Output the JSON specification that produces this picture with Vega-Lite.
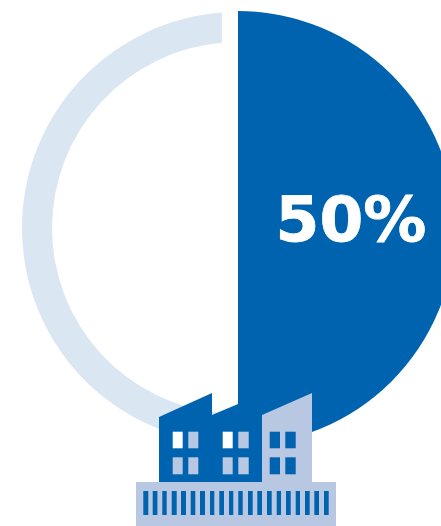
{
"$schema":"https://vega.github.io/schema/vega-lite/v6.json",
"width":441,"height":526,"padding":0,"autosize":{"type":"none"},
"background":"white",
"view":{"stroke":null},
"datasets":{
"share":[{"part":"share","start":0,"end":50,"tone":"dark"},{"part":"rest","start":50,"end":100,"tone":"pale"}],
"hall":[{"px":159,"py":417},{"px":212,"py":393},{"px":212,"py":415},{"px":238,"py":404},{"px":262,"py":394}],
"annex":[{"px":262,"py":415},{"px":312,"py":393}],
"boxes":[
{"l":136,"r":336,"t":482,"b":526,"tone":"light"},
{"l":172.7,"r":182.7,"t":431.7,"b":448.3,"tone":"white"},
{"l":188.3,"r":198.3,"t":431.7,"b":448.3,"tone":"light"},
{"l":172.7,"r":182.7,"t":457.3,"b":474.3,"tone":"light"},
{"l":188.3,"r":198.3,"t":457.3,"b":474.3,"tone":"light"},
{"l":222.7,"r":232.7,"t":431.7,"b":448.3,"tone":"white"},
{"l":238.3,"r":248.7,"t":431.7,"b":448.3,"tone":"light"},
{"l":222.7,"r":232.7,"t":457.3,"b":474.3,"tone":"light"},
{"l":238.3,"r":248.7,"t":457.3,"b":474.3,"tone":"light"},
{"l":269.7,"r":280,"t":431.7,"b":448.3,"tone":"dark"},
{"l":285.3,"r":295.7,"t":431.7,"b":448.3,"tone":"dark"},
{"l":269.7,"r":280,"t":457.3,"b":474.3,"tone":"dark"},
{"l":285.3,"r":295.7,"t":457.3,"b":474.3,"tone":"dark"},
{"l":143.3,"r":148.3,"t":491,"b":515,"tone":"dark"},
{"l":152.7,"r":157.4,"t":491,"b":515,"tone":"dark"},
{"l":162.3,"r":166.7,"t":491,"b":515,"tone":"dark"},
{"l":171.7,"r":176.7,"t":491,"b":515,"tone":"dark"},
{"l":181,"r":186,"t":491,"b":515,"tone":"dark"},
{"l":190.7,"r":195.3,"t":491,"b":515,"tone":"dark"},
{"l":200,"r":205,"t":491,"b":515,"tone":"dark"},
{"l":210,"r":214.3,"t":491,"b":515,"tone":"dark"},
{"l":219.3,"r":224,"t":491,"b":515,"tone":"dark"},
{"l":229,"r":233.3,"t":491,"b":515,"tone":"dark"},
{"l":238.3,"r":242.7,"t":491,"b":515,"tone":"dark"},
{"l":248,"r":252.7,"t":491,"b":515,"tone":"dark"},
{"l":257.3,"r":262,"t":491,"b":515,"tone":"dark"},
{"l":267,"r":271.7,"t":491,"b":515,"tone":"dark"},
{"l":276.7,"r":281,"t":491,"b":515,"tone":"dark"},
{"l":286,"r":290.7,"t":491,"b":515,"tone":"dark"},
{"l":295.7,"r":300,"t":491,"b":515,"tone":"dark"},
{"l":305,"r":309.7,"t":491,"b":515,"tone":"dark"},
{"l":314.3,"r":319,"t":491,"b":515,"tone":"dark"},
{"l":324,"r":328.7,"t":491,"b":515,"tone":"dark"}
],
"label":[{"text":"50%"}]
},
"data":{"name":"share"},
"layer":[
{"transform":[{"filter":"datum.part==='rest'"}],
 "mark":{"type":"arc","innerRadius":186,"outerRadius":216,"padAngle":0.113},
 "encoding":{
 "x":{"datum":238,"type":"quantitative","scale":{"domain":[0,441],"range":[0,441],"nice":false,"zero":false},"axis":null},
 "y":{"datum":228,"type":"quantitative","scale":{"domain":[0,526],"range":[0,526],"nice":false,"zero":false},"axis":null},
 "theta":{"field":"start","type":"quantitative","stack":null,"scale":{"domain":[0,100],"range":[0,6.283185]}},"theta2":{"field":"end"},
 "color":{"field":"tone","type":"nominal","legend":null,"scale":{"domain":["dark","pale","light","white"],"range":["#0063AF","#DAE6F1","#B9C8E2","#FFFFFF"]}}}},
{"transform":[{"filter":"datum.part==='share'"}],
 "mark":{"type":"arc","innerRadius":0,"outerRadius":217},
 "encoding":{
 "x":{"datum":238,"type":"quantitative","scale":{"domain":[0,441],"range":[0,441],"nice":false,"zero":false},"axis":null},
 "y":{"datum":228,"type":"quantitative","scale":{"domain":[0,526],"range":[0,526],"nice":false,"zero":false},"axis":null},
 "theta":{"field":"start","type":"quantitative","stack":null,"scale":{"domain":[0,100],"range":[0,6.283185]}},"theta2":{"field":"end"},
 "color":{"field":"tone","type":"nominal","legend":null}}},
{"data":{"name":"hall"},"mark":{"type":"area","color":"#0063AF","interpolate":"linear"},
 "encoding":{
 "x":{"field":"px","type":"quantitative","scale":{"domain":[0,441],"range":[0,441],"nice":false,"zero":false},"axis":null},
 "y":{"field":"py","type":"quantitative","scale":{"domain":[0,526],"range":[0,526],"nice":false,"zero":false},"axis":null,"stack":null},
 "y2":{"datum":482}}},
{"data":{"name":"annex"},"mark":{"type":"area","color":"#B9C8E2","interpolate":"linear"},
 "encoding":{
 "x":{"field":"px","type":"quantitative","scale":{"domain":[0,441],"range":[0,441],"nice":false,"zero":false},"axis":null},
 "y":{"field":"py","type":"quantitative","scale":{"domain":[0,526],"range":[0,526],"nice":false,"zero":false},"axis":null,"stack":null},
 "y2":{"datum":482}}},
{"data":{"name":"boxes"},"mark":{"type":"rect"},
 "encoding":{
 "x":{"field":"l","type":"quantitative","scale":{"domain":[0,441],"range":[0,441],"nice":false,"zero":false},"axis":null},"x2":{"field":"r"},
 "y":{"field":"t","type":"quantitative","scale":{"domain":[0,526],"range":[0,526],"nice":false,"zero":false},"axis":null},"y2":{"field":"b"},
 "color":{"field":"tone","type":"nominal","legend":null}}},
{"data":{"name":"label"},"mark":{"type":"text","font":"DejaVu Sans","fontWeight":"bold","fontSize":63,"align":"center","baseline":"alphabetic","color":"#FFFFFF","stroke":"#FFFFFF","strokeWidth":0.8},
 "encoding":{
 "x":{"datum":351,"type":"quantitative","scale":{"domain":[0,441],"range":[0,441],"nice":false,"zero":false},"axis":null},
 "y":{"datum":241,"type":"quantitative","scale":{"domain":[0,526],"range":[0,526],"nice":false,"zero":false},"axis":null},
 "text":{"field":"text"}}}
]
}
